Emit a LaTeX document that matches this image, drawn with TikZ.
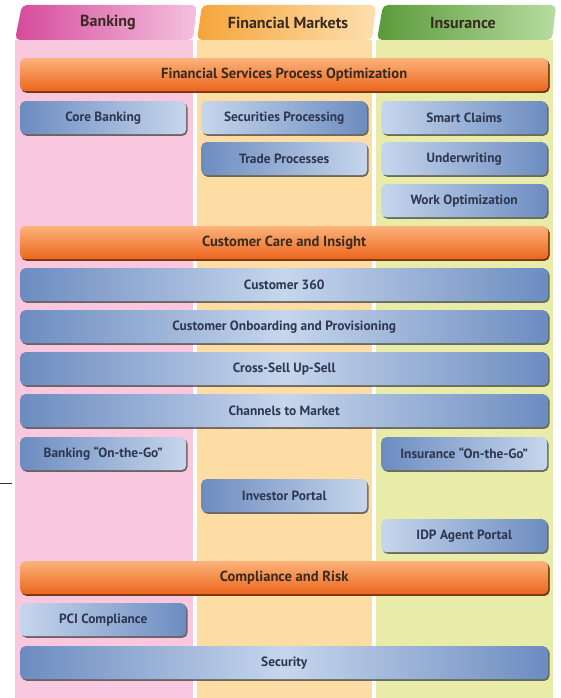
\documentclass[tikz,border=0pt]{standalone}
\usepackage{fontspec}
\setmainfont{PT Sans}
\usetikzlibrary{shadows}
\definecolor{pinkbg}{HTML}{F9C8DE}
\definecolor{orangebg}{HTML}{FDDDA4}
\definecolor{greenbg}{HTML}{E8ECA8}
\definecolor{blueD}{HTML}{6C8CC0}
\definecolor{blueL}{HTML}{C6D6EC}
\definecolor{orangeL}{HTML}{FBB27A}
\definecolor{orangeD}{HTML}{EC661C}
\definecolor{textblue}{HTML}{2E3650}
\definecolor{textdark}{HTML}{3A2A20}
\definecolor{pinkD}{HTML}{D64A9C}
\definecolor{pinkL}{HTML}{F4C2DE}
\definecolor{orD}{HTML}{F6A43A}
\definecolor{orL}{HTML}{FDE0B0}
\definecolor{grD}{HTML}{5A9A3A}
\definecolor{grL}{HTML}{B8DCA0}
\begin{document}
\begin{tikzpicture}[x=1pt,y=-1pt,
  box/.style={anchor=north west, rounded corners=5pt, inner sep=0pt,
    minimum height=33pt, font=\bfseries\fontsize{13.4}{15}\selectfont, text=textblue,
    drop shadow={shadow xshift=1.3pt, shadow yshift=-1.6pt, fill=black!75, opacity=.75}},
  narrow/.style={minimum width=166pt},
  wide/.style={minimum width=528pt},
  bl/.style={box, narrow, left color=blueD, right color=blueL},
  br/.style={box, narrow, left color=blueL, right color=blueD},
  bw/.style={box, wide, left color=blueD, right color=blueD, middle color=blueL},
  ob/.style={box, wide, top color=orangeL, bottom color=orangeD, text=textdark,
    font=\bfseries\fontsize{14.6}{16}\selectfont,
    drop shadow={shadow xshift=1.3pt, shadow yshift=-1.6pt, fill=orangeD!50!black, opacity=.9}},
  tab/.style={rounded corners=5pt},
  htext/.style={font=\bfseries\fontsize{16}{18}\selectfont, text=textdark}
]
\useasboundingbox (0,0) rectangle (561,698);
\fill[white] (0,0) rectangle (561,698);
% column backgrounds
\fill[pinkbg] (15,40) rectangle (193,698);
\fill[orangebg] (197,40) rectangle (372,698);
\fill[greenbg] (376,40) rectangle (553,698);
% header tabs
\shade[tab, left color=pinkD, right color=pinkL] (15,40) -- (22,5) -- (197,5) -- (193,40) -- cycle;
\shade[tab, left color=orD, right color=orL] (197,40) -- (202,5) -- (376,5) -- (372,40) -- cycle;
\shade[tab, left color=grD, right color=grL] (377,40) -- (383,5) -- (556,5) -- (552,40) -- cycle;
\node[htext] (hbank) at (108,23) {Banking};
\node[htext] (hfin) at (288,23) {Financial Markets};
\node[htext] (hins) at (463,23) {Insurance};
% stray mark
\coordinate (m1) at (0,483);
\coordinate (m2) at (12,483);
\draw[line width=1pt, black!80] (m1) -- (m2);
% rows
\node[ob] (fspo) at (20,58) {Financial Services Process Optimization};
\node[bl] (core) at (20,101) {Core Banking};
\node[br] (secp) at (201,101) {Securities Processing};
\node[bl] (trade) at (201,142) {Trade Processes};
\node[br] (smart) at (381,101) {Smart Claims};
\node[br] (under) at (381,142) {Underwriting};
\node[br] (work) at (381,184) {Work Optimization};
\node[ob] (cci) at (20,226) {Customer Care and Insight};
\node[bw] (c360) at (20,268) {Customer 360};
\node[bw] (onb) at (20,310) {Customer Onboarding and Provisioning};
\node[bw] (cross) at (20,352) {Cross-Sell Up-Sell};
\node[bw] (chan) at (20,394) {Channels to Market};
\node[bl] (bgo) at (20,437) {Banking “On-the-Go”};
\node[bl] (igo) at (381,437) {Insurance “On-the-Go”};
\node[bl] (inv) at (201,479) {Investor Portal};
\node[br] (idp) at (381,519) {IDP Agent Portal};
\node[ob] (comp) at (20,561) {Compliance and Risk};
\node[br] (pci) at (20,603) {PCI Compliance};
\node[bw] (sec) at (20,646) {Security};
\end{tikzpicture}
\end{document}
